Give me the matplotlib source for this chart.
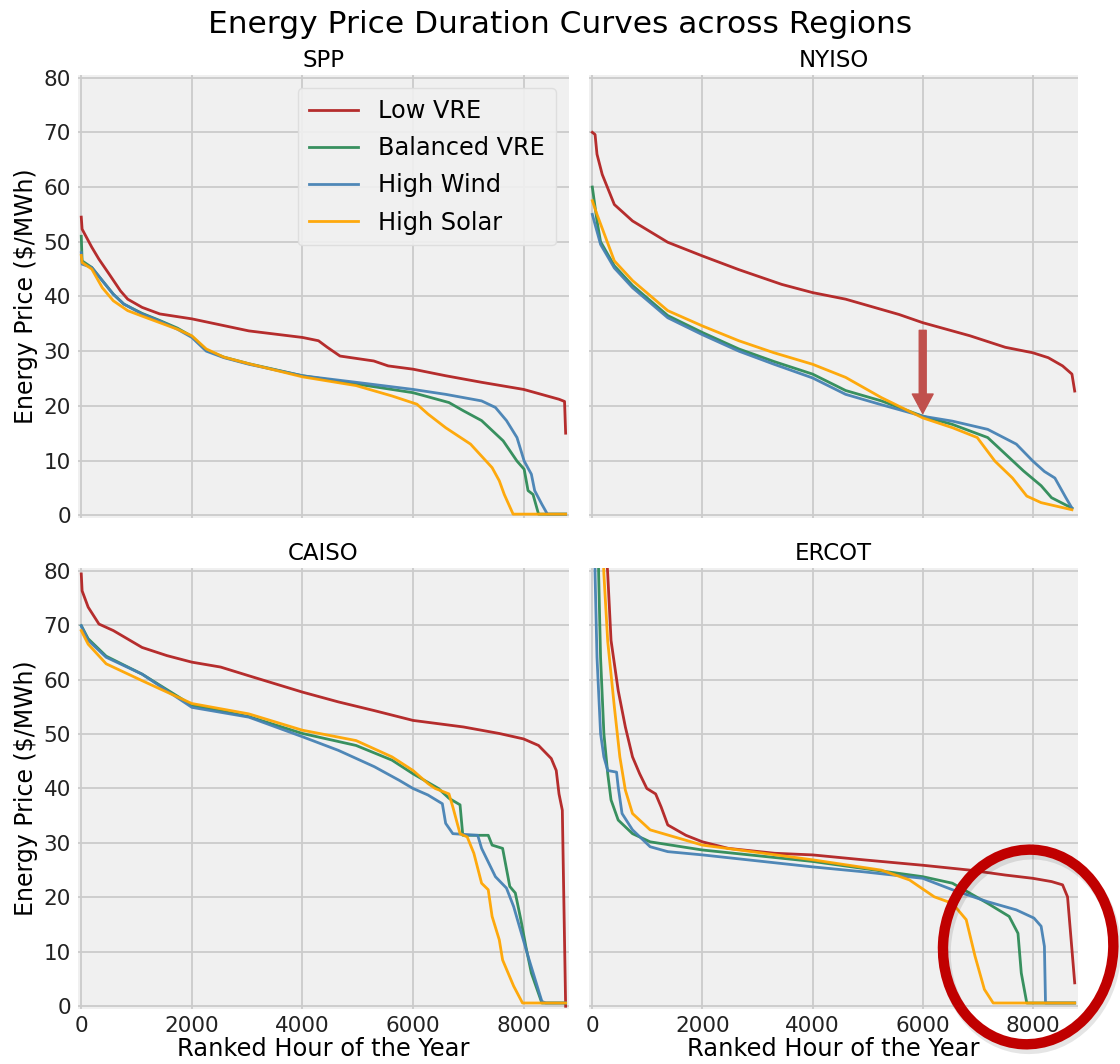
#!/usr/bin/env python3
"""
Energy price duration curves for four ISO regions under four VRE scenarios.
"""
import matplotlib
matplotlib.use('Agg')
import matplotlib.pyplot as plt
from matplotlib.patches import Ellipse

COLORS = {
    'Low VRE': '#b22222',
    'Balanced VRE': '#2e8b57',
    'High Wind': '#4682b4',
    'High Solar': '#ffa500',
}
BG = '#f0f0f0'
GRID = '#cbcbcb'

# (ranked hour, price $/MWh)
spp_low = [(0, 54.5), (15, 52.3), (190, 49), (320, 46.8), (510, 44), (710, 41), (840, 39.5),
           (1100, 38), (1420, 36.8), (2000, 35.9), (3030, 33.7), (4000, 32.5), (4290, 31.9),
           (4450, 30.7), (4680, 29.1), (5290, 28.2), (5550, 27.3), (6000, 26.7), (6590, 25.5),
           (7240, 24.3), (8000, 23), (8640, 21.2), (8740, 20.8), (8760, 15)]
spp_bal = [(0, 51), (15, 46.5), (190, 45.3), (380, 42.9), (580, 40.4), (770, 38.6), (1100, 36.9),
           (1420, 35.6), (1740, 34.2), (2000, 32.7), (2260, 30.2), (2580, 28.9), (3030, 27.7),
           (4000, 25.5), (4970, 24), (6000, 22.4), (6650, 20.6), (6910, 19.1), (7240, 17.3),
           (7630, 13.6), (7880, 9.9), (8010, 8.4), (8080, 4.5), (8170, 3.8), (8270, 0.2), (8760, 0.2)]
spp_wind = [(0, 48), (15, 45.9), (190, 45.3), (380, 42.9), (580, 40.4), (770, 38.6), (1100, 36.8),
            (1420, 35.5), (1740, 34), (2000, 32.5), (2260, 30), (2580, 28.8), (3030, 27.6),
            (4000, 25.5), (4970, 24.3), (6000, 23), (6590, 22.1), (7240, 20.9), (7490, 19.7),
            (7690, 17.3), (7880, 14.2), (8010, 9.9), (8140, 7.5), (8200, 4.5), (8330, 2),
            (8430, 0.2), (8760, 0.2)]
spp_solar = [(0, 47.5), (15, 46.2), (190, 45), (380, 41.6), (580, 39.2), (840, 37.4), (1100, 36.4),
             (1420, 35.2), (1740, 34), (2000, 32.8), (2260, 30.4), (2580, 28.9), (3030, 27.7),
             (4000, 25.3), (4970, 23.7), (5620, 21.8), (6070, 20.3), (6270, 18.5), (6590, 16),
             (7040, 13), (7430, 8.7), (7560, 6.3), (7650, 3.8), (7810, 0.2), (8760, 0.2)]

nyiso_low = [(0, 70), (50, 69.6), (85, 66), (180, 62.3), (400, 56.8), (730, 53.8), (1370, 49.9),
             (2000, 47.4), (2660, 44.9), (3440, 42.2), (4000, 40.7), (4600, 39.5), (5570, 36.7),
             (6000, 35.2), (6860, 32.8), (7500, 30.7), (8000, 29.7), (8280, 28.8), (8540, 27.3),
             (8710, 25.8), (8760, 22.7)]
nyiso_bal = [(0, 60), (85, 53.8), (150, 50), (400, 45.6), (730, 42), (1370, 36.5), (2000, 33.4),
             (2660, 30.4), (3300, 28.1), (4000, 25.8), (4600, 22.8), (5250, 20.9), (6000, 18.1),
             (6540, 16.6), (7180, 14.2), (7500, 11.2), (7830, 8.1), (8150, 5.4), (8340, 3.2),
             (8710, 1.3)]
nyiso_wind = [(0, 55), (150, 49.5), (400, 45.2), (730, 41.6), (1370, 36.1), (2000, 33), (2660, 30),
              (3300, 27.6), (4000, 25.1), (4600, 22.1), (5250, 20.2), (6000, 18.1), (6540, 17.2),
              (7180, 15.7), (7700, 13), (8000, 9.9), (8210, 8), (8400, 6.8), (8600, 3.2),
              (8710, 1.3)]
nyiso_solar = [(0, 57.5), (85, 55), (400, 46.5), (730, 42.9), (1370, 37.4), (2000, 34.6),
               (2660, 31.9), (3300, 29.7), (4000, 27.6), (4600, 25.2), (5250, 21.5), (6000, 17.8),
               (6540, 16), (6990, 14.2), (7310, 9.9), (7630, 6.8), (7890, 3.5), (8150, 2.3),
               (8710, 1)]

caiso_low = [(0, 79.4), (15, 76.3), (125, 73.3), (320, 70.2), (580, 69), (1100, 65.9), (1550, 64.4),
             (2000, 63.2), (2520, 62.3), (3030, 60.7), (4000, 57.7), (4650, 55.9), (5300, 54.3),
             (6000, 52.5), (6910, 51.3), (7560, 50.1), (8000, 49.1), (8270, 47.9), (8500, 45.5),
             (8590, 43.3), (8640, 39), (8700, 36), (8760, 0)]
caiso_bal = [(0, 69.9), (125, 67.5), (450, 64.3), (1100, 61), (2000, 55.3), (3030, 53.2),
             (4000, 50.1), (4970, 47.9), (5620, 45.2), (6000, 42.7), (6460, 40), (6650, 38.2),
             (6850, 37), (6900, 31.4), (7360, 31.4), (7430, 29.6), (7620, 29), (7750, 22),
             (7850, 20.8), (7950, 15.9), (8040, 11), (8140, 6.1), (8330, 0.6), (8760, 0.6)]
caiso_wind = [(0, 69.9), (125, 67.2), (450, 64.1), (1100, 61), (2000, 54.9), (3030, 53.1),
              (4000, 49.5), (4650, 47), (5300, 44), (5750, 41.5), (6000, 40), (6270, 38.8),
              (6530, 37.2), (6590, 33.6), (6720, 31.7), (7170, 31.4), (7240, 29), (7490, 23.8),
              (7690, 21.7), (7820, 18.3), (8080, 9.2), (8330, 0.9), (8400, 0.6), (8760, 0.6)]
caiso_solar = [(0, 69), (125, 66.5), (450, 62.9), (1100, 59.8), (2000, 55.6), (3030, 53.7),
               (4000, 50.7), (4970, 48.8), (5620, 45.8), (6000, 43.3), (6270, 40.9), (6400, 40),
               (6650, 39), (6720, 36.6), (6850, 31.7), (6980, 31.1), (7100, 28.1), (7240, 22.6),
               (7360, 21.4), (7430, 16.5), (7560, 12.2), (7620, 8.5), (7820, 3.7), (7980, 0.6),
               (8760, 0.6)]

ercot_low = [(0, 150), (150, 100), (280, 79.4), (340, 67.2), (470, 58), (600, 51.3), (730, 45.8),
             (860, 42.7), (990, 40), (1150, 39), (1250, 36.6), (1370, 33.3), (1700, 31.4),
             (2000, 30.2), (2470, 29), (3310, 28.1), (4000, 27.8), (4920, 26.9), (6000, 25.9),
             (6860, 25), (7500, 24.1), (8000, 23.5), (8340, 22.9), (8540, 22.3), (8630, 20.1),
             (8710, 10.4), (8760, 4.3)]
ercot_bal = [(0, 150), (115, 79.4), (150, 64), (210, 50.1), (280, 42.7), (340, 37.9), (470, 34.2),
             (730, 31.7), (1050, 30.2), (2000, 28.7), (4000, 26.6), (6000, 23.8), (6540, 22.6),
             (7180, 18.9), (7570, 16.5), (7730, 13.4), (7790, 6.1), (7890, 0.6), (8760, 0.6)]
ercot_wind = [(0, 150), (50, 79.4), (85, 64.1), (150, 50.1), (210, 45.8), (280, 43.3), (440, 43),
              (470, 40.3), (540, 35.4), (730, 32.4), (1050, 29.3), (1370, 28.4), (2000, 27.8),
              (4000, 25.6), (4920, 24.7), (6000, 23.5), (6540, 21.4), (7180, 19.2), (7700, 17.7),
              (8020, 16.2), (8150, 14.7), (8210, 11), (8230, 0.6), (8760, 0.6)]
ercot_solar = [(0, 150), (210, 79.4), (280, 67), (400, 55), (500, 45.8), (600, 39.7), (730, 35.4),
               (1050, 32.4), (2000, 29.6), (4000, 26.9), (5250, 25), (5760, 23.2), (6210, 20.1),
               (6540, 18.9), (6790, 15.9), (6950, 9.2), (7120, 3.1), (7280, 0.6), (8760, 0.6)]

REGIONS = ['SPP', 'NYISO', 'CAISO', 'ERCOT']
SCENARIOS = ['Low VRE', 'Balanced VRE', 'High Wind', 'High Solar']
CURVES = {
    'SPP': [spp_low, spp_bal, spp_wind, spp_solar],
    'NYISO': [nyiso_low, nyiso_bal, nyiso_wind, nyiso_solar],
    'CAISO': [caiso_low, caiso_bal, caiso_wind, caiso_solar],
    'ERCOT': [ercot_low, ercot_bal, ercot_wind, ercot_solar],
}
X_TICKS = [0, 2000, 4000, 6000, 8000]
Y_TICKS = [0, 10, 20, 30, 40, 50, 60, 70, 80]

plt.rcParams['font.family'] = 'DejaVu Sans'

fig = plt.figure(figsize=(11.2, 10.64), dpi=100, facecolor='white')
positions = [
    [0.0696, 0.5132, 0.4384, 0.4164],
    [0.5259, 0.5132, 0.4366, 0.4164],
    [0.0696, 0.0517, 0.4384, 0.4145],
    [0.5259, 0.0517, 0.4366, 0.4145],
]

axes = []
for i, (region, pos) in enumerate(zip(REGIONS, positions)):
    ax = fig.add_axes(pos)
    ax.set_facecolor(BG)
    for s in ax.spines.values():
        s.set_visible(False)
    ax.grid(True, color=GRID, linewidth=1.3)
    ax.set_axisbelow(True)
    for scen, curve in zip(SCENARIOS, CURVES[region]):
        hrs = [c[0] for c in curve]
        prices = [c[1] for c in curve]
        ax.plot(hrs, prices, color=COLORS[scen], linewidth=2.0, alpha=0.95, label=scen)
    ax.set_xlim(-60, 8820)
    ax.set_ylim(-0.5, 80.5)
    ax.set_xticks(X_TICKS)
    ax.set_yticks(Y_TICKS)
    ax.tick_params(length=0, labelsize=15.5, colors='#222222', pad=5)
    ax.set_title(region, fontsize=16.5, pad=6)
    if i % 2 == 1:
        ax.tick_params(labelleft=False)
    else:
        ax.set_ylabel('Energy Price (\\$/MWh)', fontsize=17, labelpad=4)
    if i < 2:
        ax.tick_params(labelbottom=False)
    else:
        ax.set_xlabel('Ranked Hour of the Year', fontsize=17.4, labelpad=1)
    axes.append(ax)

leg = axes[0].legend(loc='upper right', fontsize=17.3, frameon=True, fancybox=True,
                     borderpad=0.45, labelspacing=0.55, handlelength=2.05,
                     handletextpad=0.85, borderaxespad=0.55)
leg.get_frame().set_facecolor(BG)
leg.get_frame().set_edgecolor('#dddddd')
leg.get_frame().set_alpha(0.9)

fig.suptitle('Energy Price Duration Curves across Regions', fontsize=22.5, y=0.991)

# arrow marking the crossover in NYISO
axes[1].annotate('', xy=(6000, 18.6), xytext=(6000, 33.8),
                 arrowprops=dict(facecolor='#c0504d', edgecolor='#c0504d', width=5,
                                 headwidth=15, headlength=14, shrink=0))

# ellipse highlighting ERCOT scarcity tail (drawn in figure coords, spills off the axes)
shadow = Ellipse((0.920, 0.106), 0.152, 0.183, angle=-3, transform=fig.transFigure,
                 fill=False, edgecolor='#000000', alpha=0.10, linewidth=8)
ring = Ellipse((0.918, 0.110), 0.152, 0.183, angle=-3, transform=fig.transFigure,
               fill=False, edgecolor='#c00000', linewidth=7.5)
fig.patches.extend([shadow, ring])

plt.savefig('out.png', dpi=100, facecolor='white')
plt.close()
